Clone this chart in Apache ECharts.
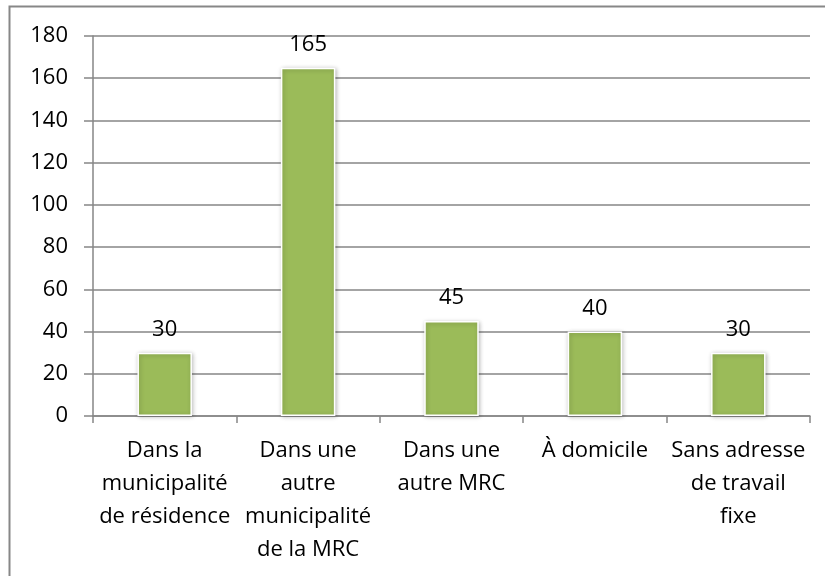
<!DOCTYPE html>
<html>
<head>
    <meta charset="utf-8">
    <script src="https://cdn.jsdelivr.net/npm/echarts@6/dist/echarts.min.js"></script>
    <style>
        html, body { margin: 0; padding: 0; background: #fff; }
    </style>
</head>
<body>
    <div id="main" style="width: 825px;height:576px;"></div>
<script type="text/javascript">
    // categories and values
    var categories = [
        'Dans la\nmunicipalité\nde résidence',
        'Dans une\nautre\nmunicipalité\nde la MRC',
        'Dans une\nautre MRC',
        'À domicile',
        'Sans adresse\nde travail\nfixe'
    ];
    var values = [30, 165, 45, 40, 30];

    var font = '"Open Sans", "Liberation Sans", sans-serif';
    var myChart = echarts.init(document.getElementById('main'));

    var option = {
        backgroundColor: '#fff',
        animation: false,
        graphic: [{
            type: 'rect',
            shape: { x: 9.5, y: 6.5, width: 900, height: 700 },
            style: { fill: 'none', stroke: '#878787', lineWidth: 2 },
            silent: true
        }],
        grid: { left: 93, right: 15, top: 36, bottom: 160 },
        xAxis: {
            type: 'category',
            data: categories,
            axisLine: { lineStyle: { color: '#868686', width: 1.5 } },
            axisTick: { show: true, length: 7, lineStyle: { color: '#868686', width: 1.5 } },
            axisLabel: {
                interval: 0,
                margin: 18,
                color: '#000',
                fontFamily: font,
                fontSize: 22,
                lineHeight: 33
            }
        },
        yAxis: {
            type: 'value',
            min: 0,
            max: 180,
            interval: 20,
            axisLine: { show: true, lineStyle: { color: '#868686', width: 1.5 } },
            axisTick: { show: true, length: 9, lineStyle: { color: '#868686', width: 1.5 } },
            splitLine: { lineStyle: { color: '#868686', width: 1.5 } },
            axisLabel: {
                margin: 25,
                color: '#000',
                fontFamily: font,
                fontSize: 22
            }
        },
        series: [{
            type: 'bar',
            data: values,
            barWidth: '38%',
            itemStyle: {
                color: '#9bbb59',
                borderColor: '#ffffff',
                borderWidth: 1.5,
                shadowColor: 'rgba(0,0,0,0.25)',
                shadowBlur: 4,
                shadowOffsetX: 1,
                shadowOffsetY: 1
            },
            label: {
                show: true,
                position: 'top',
                distance: 12,
                color: '#000',
                fontFamily: font,
                fontSize: 22
            }
        }]
    };

    myChart.setOption(option);
</script>
</body>
</html>
